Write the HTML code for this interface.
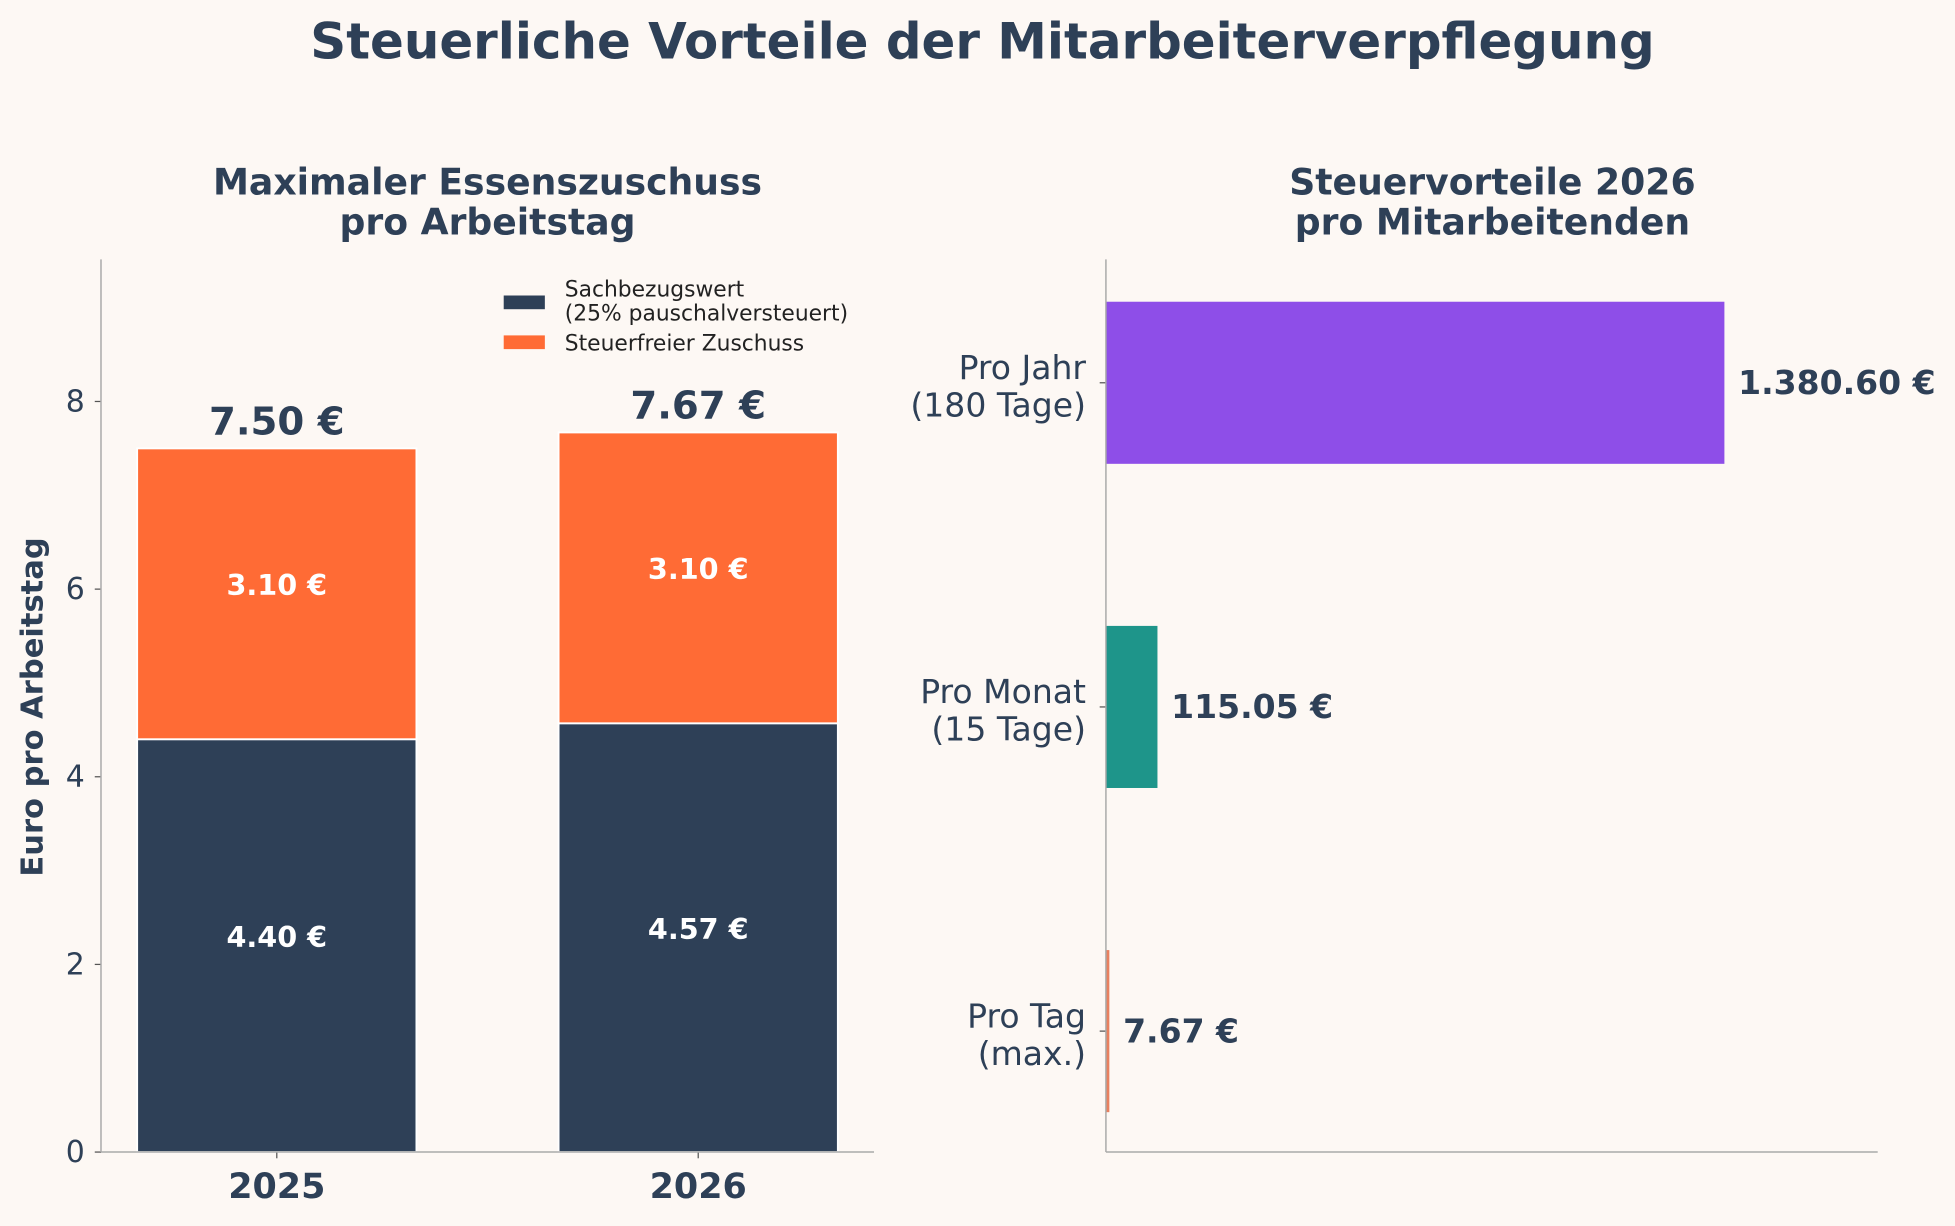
<!DOCTYPE html>
<html><head><meta charset="utf-8"><style>
html,body{margin:0;padding:0;background:#fdf8f4;}
svg{display:block;font-family:"DejaVu Sans","Liberation Sans",sans-serif;}
</style></head><body>
<svg id="c" width="1955" height="1226" viewBox="0 0 1568 983.3">
<rect width="1568" height="984" fill="#fdf8f4"/>
<text x="788" y="47" text-anchor="middle" font-size="40" font-weight="bold" fill="#2e4057">Steuerliche Vorteile der Mitarbeiterverpflegung</text>
<g id="left"></g>
<g id="right"></g>
</svg>
<script>
const years = ['2025','2026'];
const sachbezug = [4.40, 4.57];
const steuerfrei = [3.10, 3.10];
const yTicks = [0,2,4,6,8];
const hCats = ['Pro Tag|(max.)','Pro Monat|(15 Tage)','Pro Jahr|(180 Tage)'];
const hVals = [7.67, 115.05, 1380.60];
const hLabels = ['7.67 €','115.05 €','1.380.60 €'];
const hColors = ['#e8805f','#1e958a','#8e4ee8'];

const NS='http://www.w3.org/2000/svg';
const C='#2e4057';
function el(p,tag,attrs,txt){const e=document.createElementNS(NS,tag);for(const k in attrs)e.setAttribute(k,attrs[k]);if(txt!==undefined)e.textContent=txt;p.appendChild(e);return e;}
const L=document.getElementById('left'), R=document.getElementById('right');

const lx0=81,lx1=701,ly0=924,ly1=208;
const xs=i=>222+i*338;
const ys=v=>924-v*75.25;
let t;
t=el(L,'text',{x:391,y:156,'text-anchor':'middle','font-size':29,'font-weight':'bold',fill:C},'Maximaler Essenszuschuss');

el(L,'text',{x:391,y:188,'text-anchor':'middle','font-size':29,'font-weight':'bold',fill:C},'pro Arbeitstag');
const bw=224;
years.forEach((y,i)=>{
  const cx=xs(i);
  let r=el(L,'rect',{x:cx-bw/2,y:ys(sachbezug[i]),width:bw,height:ys(0)-ys(sachbezug[i]),fill:'#2e4057',stroke:'#fff','stroke-width':1.5});
  
  const tot=sachbezug[i]+steuerfrei[i];
  r=el(L,'rect',{x:cx-bw/2,y:ys(tot),width:bw,height:ys(sachbezug[i])-ys(tot),fill:'#ff6b35',stroke:'#fff','stroke-width':1.5});
  
  el(L,'text',{x:cx,y:ys(sachbezug[i]/2)+1,'text-anchor':'middle','font-size':23,'font-weight':'bold',fill:'#fff'},sachbezug[i].toFixed(2)+' €');
  el(L,'text',{x:cx,y:ys(sachbezug[i]+steuerfrei[i]/2)+1,'text-anchor':'middle','font-size':23,'font-weight':'bold',fill:'#fff'},steuerfrei[i].toFixed(2)+' €');
  t=el(L,'text',{x:cx,y:ys(tot)-11,'text-anchor':'middle','font-size':31,'font-weight':'bold',fill:C},tot.toFixed(2)+' €');
  
  el(L,'line',{x1:cx,x2:cx,y1:ly0,y2:ly0+5,stroke:'#555'});
  t=el(L,'text',{x:cx,y:961,'text-anchor':'middle','font-size':28,'font-weight':'bold',fill:C},y);
  
});
yTicks.forEach(v=>{
  el(L,'line',{x1:lx0-5,x2:lx0,y1:ys(v),y2:ys(v),stroke:'#555'});
  t=el(L,'text',{x:lx0-13,y:ys(v)+8,'text-anchor':'end','font-size':24,fill:C},v);
  
});
el(L,'line',{x1:lx0,x2:lx0,y1:ly1,y2:ly0,stroke:'#aaa','stroke-width':1.2});
el(L,'line',{x1:lx0,x2:lx1,y1:ly0,y2:ly0,stroke:'#aaa','stroke-width':1.2});
t=el(L,'text',{x:34,y:567,'text-anchor':'middle','font-size':24.5,'font-weight':'bold',fill:C,transform:'rotate(-90 34 567)'},'Euro pro Arbeitstag');

let g=el(L,'g',{});
el(g,'rect',{x:404,y:237,width:33,height:11,fill:'#2e4057'});
el(g,'text',{x:453,y:238,'font-size':17.5,fill:'#222'},'Sachbezugswert');
el(g,'text',{x:453,y:257,'font-size':17.5,fill:'#222'},'(25% pauschalversteuert)');
el(g,'rect',{x:404,y:269,width:33,height:11,fill:'#ff6b35'});
el(g,'text',{x:453,y:281,'font-size':17.5,fill:'#222'},'Steuerfreier Zuschuss');

const rx0=887,rx1=1506;
const hx=v=>887+v*0.3593;
const hy=i=>827-i*260;
el(R,'text',{x:1197,y:156,'text-anchor':'middle','font-size':29,'font-weight':'bold',fill:C},'Steuervorteile 2026');
el(R,'text',{x:1197,y:188,'text-anchor':'middle','font-size':29,'font-weight':'bold',fill:C},'pro Mitarbeitenden');
hCats.forEach((c,i)=>{
  const cy=hy(i);
  let r=el(R,'rect',{x:hx(0),y:cy-65,width:hx(hVals[i])-hx(0),height:130,fill:hColors[i]});
  
  t=el(R,'text',{x:hx(hVals[i])+11,y:cy+9,'font-size':26.5,'font-weight':'bold',fill:C},hLabels[i]);
  
  el(R,'line',{x1:rx0-5,x2:rx0,y1:cy,y2:cy,stroke:'#555'});
  const p=c.split('|');
  el(R,'text',{x:871,y:cy-3,'text-anchor':'end','font-size':26.5,fill:C},p[0]);
  el(R,'text',{x:871,y:cy+27,'text-anchor':'end','font-size':26.5,fill:C},p[1]);
});
el(R,'line',{x1:rx0,x2:rx0,y1:208,y2:924,stroke:'#aaa','stroke-width':1.2});
el(R,'line',{x1:rx0,x2:rx1,y1:924,y2:924,stroke:'#aaa','stroke-width':1.2});
</script>
</body></html>
